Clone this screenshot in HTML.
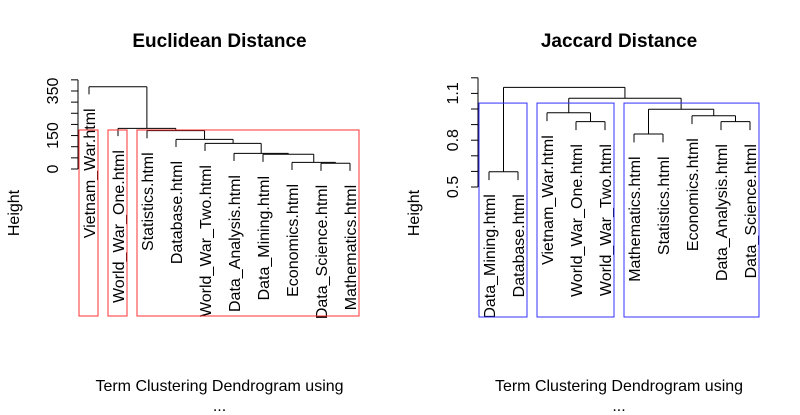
<!DOCTYPE html>
<html><head><meta charset="utf-8"><style>
html,body{margin:0;padding:0;background:#fff;}
svg{display:block;font-family:"Liberation Sans",Arial,sans-serif;}
</style></head><body>
<svg id="chart" width="800" height="415" viewBox="0 0 800 415">
<rect width="800" height="415" fill="#fff"/>
</svg>
<script>
// Left: Euclidean
const leftLabels = ["Vietnam_War.html","World_War_One.html","Statistics.html","Database.html","World_War_Two.html","Data_Analysis.html","Data_Mining.html","Economics.html","Data_Science.html","Mathematics.html"];
const leftMergeA = [-9,-8,-7,-6,-5,-4,-3,-2,-1];
const leftMergeB = [-10,1,2,3,4,5,6,7,8];
const leftHeights = [26,30,66,70,115,133,172,182,369];
const leftTicks = [0,50,100,150,200,250,300,350,400];
const leftTickLabels = ["0","","","150","","","","350",""];
const leftClusters = [[1,1],[2,2],[3,10]];
const leftCut = 175;
// Right: Jaccard
const rightLabels = ["Data_Mining.html","Database.html","Vietnam_War.html","World_War_One.html","World_War_Two.html","Mathematics.html","Statistics.html","Economics.html","Data_Analysis.html","Data_Science.html"];
const rightMergeA = [-1,-4,-3,-6,-9,-8,4,3,1];
const rightMergeB = [-2,-5,2,-7,-10,5,6,7,8];
const rightHeights = [0.598,0.919,0.976,0.840,0.919,0.957,0.998,1.069,1.139];
const rightTicks = [0.5,0.6,0.7,0.8,0.9,1.0,1.1,1.2];
const rightTickLabels = ["0.5","","","0.8","","","1.1",""];
const rightClusters = [[1,2],[3,5],[6,10]];
const rightCut = 1.038;

const NS="http://www.w3.org/2000/svg";
const svg=document.getElementById('chart');
function mk(tag,attrs,parent){const e=document.createElementNS(NS,tag);for(const k in attrs)e.setAttribute(k,attrs[k]);(parent||svg).appendChild(e);return e;}
const FS=16;
function drawPanel(cfg){
  const g=mk('g',{});
  
  
  const y=v=>cfg.y0-(v-cfg.v0)*cfg.k;
  const x=i=>cfg.x0+(i-1)*29;
  const hs=cfg.heights;
  const hang=0.1*(Math.max(...hs)-Math.min(...hs));
  const t=mk('text',{x:cfg.cx,y:47,'text-anchor':'middle','font-size':'19','font-weight':'bold',fill:'#000'},g);
  t.textContent=cfg.title;
  
  
  const s1=mk('text',{x:cfg.cx,y:391,'text-anchor':'middle','font-size':FS,fill:'#000'},g);
  s1.textContent='Term Clustering Dendrogram using';
  
  
  const s2=mk('text',{x:cfg.cx,y:411,'text-anchor':'middle','font-size':FS,fill:'#000'},g);
  s2.textContent='...';
  
  
  const yl=mk('text',{x:0,y:0,'text-anchor':'middle','font-size':FS,fill:'#000',transform:`translate(${cfg.ylx},213) rotate(-90)`},g);
  yl.textContent='Height';
  
  
  const ax=mk('line',{x1:cfg.ax,x2:cfg.ax,y1:y(cfg.ticks[0]),y2:y(cfg.ticks[cfg.ticks.length-1]),stroke:'#000','stroke-width':1},g);
  
  
  cfg.ticks.forEach((v,i)=>{
    const tk=mk('line',{x1:cfg.ax-7,x2:cfg.ax,y1:y(v),y2:y(v),stroke:'#000'},g);
    
    
    if(cfg.tickLabels[i]){
      const tl=mk('text',{x:0,y:0,'text-anchor':'middle','font-size':FS,fill:'#000',transform:`translate(${cfg.ax-20},${y(v)}) rotate(-90)`},g);
      tl.textContent=cfg.tickLabels[i];
      
      
    }
  });
  const pos=[];
  function node(ref){ if(ref<0) return {x:x(-ref),leaf:-ref}; return {x:pos[ref-1],leaf:0}; }
  for(let m=0;m<hs.length;m++){
    const a=node(cfg.A[m]), b=node(cfg.B[m]), h=y(hs[m]);
    pos.push((a.x+b.x)/2);
    [a,b].forEach((n,j)=>{
      let bottom;
      if(n.leaf){
        bottom=y(hs[m]-hang);
        const lt=mk('text',{x:0,y:0,'text-anchor':'end','font-size':FS,fill:'#000',transform:`translate(${n.x+6},${bottom+14}) rotate(-90)`},g);
        lt.textContent=cfg.labels[n.leaf-1];
        
        
      } else {
        const ref=(j===0?cfg.A[m]:cfg.B[m]);
        bottom=y(hs[ref-1]);
      }
      const vl=mk('line',{x1:n.x,x2:n.x,y1:h,y2:bottom,stroke:'#000'},g);
      
      
    });
    const hl=mk('line',{x1:a.x,x2:b.x,y1:h,y2:h,stroke:'#000'},g);
    
    
  }
  cfg.clusters.forEach(c=>{
    const r=mk('rect',{x:x(c[0])-10,y:y(cfg.cut),width:x(c[1])-x(c[0])+19,height:cfg.bottom-y(cfg.cut),fill:'none',stroke:cfg.color,'stroke-width':1},g);
    
    
  });
}
drawPanel({name:'euclidean-panel',title:'Euclidean Distance',cx:219.5,ylx:19,ax:78,x0:89,y0:169,v0:0,k:0.2229,
  labels:leftLabels,A:leftMergeA,B:leftMergeB,heights:leftHeights,ticks:leftTicks,tickLabels:leftTickLabels,
  clusters:leftClusters,cut:leftCut,bottom:316,color:'#ff3030'});
drawPanel({name:'jaccard-panel',title:'Jaccard Distance',cx:619,ylx:419,ax:478,x0:489,y0:187,v0:0.5,k:156,
  labels:rightLabels,A:rightMergeA,B:rightMergeB,heights:rightHeights,ticks:rightTicks,tickLabels:rightTickLabels,
  clusters:rightClusters,cut:rightCut,bottom:317,color:'#3030ff'});
</script>
</body></html>
